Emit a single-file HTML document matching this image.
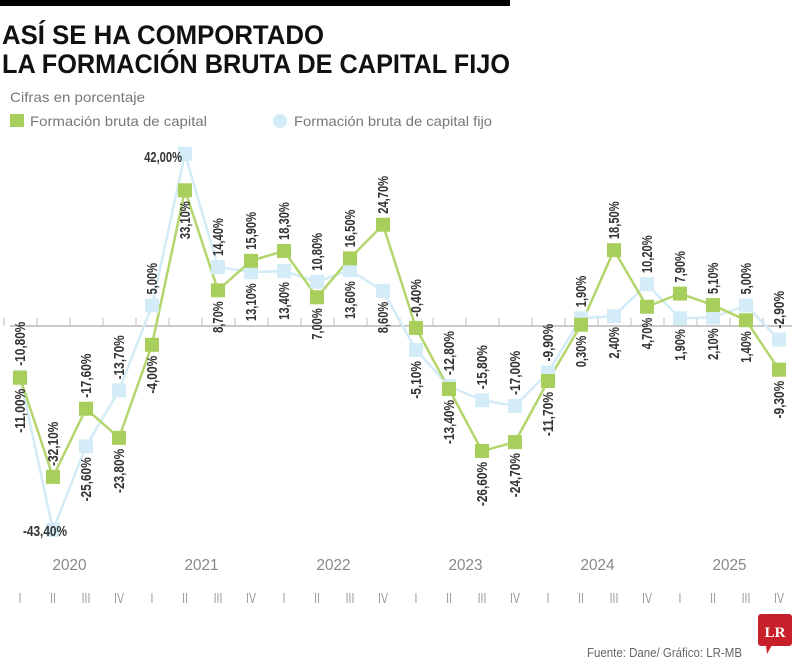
<!DOCTYPE html>
<html><head><meta charset="utf-8"><style>
body{margin:0;background:#fff;width:800px;height:666px;overflow:hidden;font-family:"Liberation Sans",sans-serif}
svg{display:block}
</style></head><body>
<svg width="800" height="666" viewBox="0 0 800 666">
<rect x="0" y="0" width="510" height="6" fill="#000"/>
<text x="2" y="44" font-size="27" font-weight="bold" fill="#111" textLength="322" lengthAdjust="spacingAndGlyphs">ASÍ SE HA COMPORTADO</text>
<text x="2" y="73" font-size="27" font-weight="bold" fill="#111" textLength="508" lengthAdjust="spacingAndGlyphs">LA FORMACIÓN BRUTA DE CAPITAL FIJO</text>
<text x="10" y="102" font-size="14" fill="#777" textLength="135" lengthAdjust="spacingAndGlyphs">Cifras en porcentaje</text>
<g><rect x="10" y="114" width="14" height="13" fill="#a8cf5c"/><text x="30" y="126" font-size="14" fill="#777" textLength="177" lengthAdjust="spacingAndGlyphs">Formación bruta de capital</text></g>
<g><circle cx="280" cy="121" r="7" fill="#d3ecf7"/><text x="294" y="126" font-size="14" fill="#777" textLength="198" lengthAdjust="spacingAndGlyphs">Formación bruta de capital fijo</text></g>
<line x1="10" y1="326" x2="792" y2="326" stroke="#aaa" stroke-width="1.2"/>
<g id="ticks"></g><g id="lines"></g><g id="marks"></g><g id="labels"></g><g id="xaxis"></g>
<text x="587" y="657" font-size="13" fill="#666" textLength="155" lengthAdjust="spacingAndGlyphs">Fuente: Dane/ Gráfico: LR-MB</text>
<g><rect x="758" y="614" width="34" height="32" rx="3" fill="#c8202a"/><polygon points="766,645 772,645 767,654" fill="#c8202a"/><text x="775" y="637" font-size="15" font-weight="bold" fill="#fff" text-anchor="middle" font-family="Liberation Serif, serif">LR</text></g>
</svg>
<script>
const quarters=["I","II","III","IV","I","II","III","IV","I","II","III","IV","I","II","III","IV","I","II","III","IV","I","II","III","IV"];
const years=["2020","2021","2022","2023","2024","2025"];
const capital=[-11.0,-32.1,-17.6,-23.8,-4.0,33.1,8.7,15.9,18.3,7.0,16.5,24.7,-0.4,-13.4,-26.6,-24.7,-11.7,0.3,18.5,4.7,7.9,5.1,1.4,-9.3];
const capitalFijo=[-10.8,-43.4,-25.6,-13.7,5.0,42.0,14.4,13.1,13.4,10.8,13.6,8.6,-5.1,-12.8,-15.8,-17.0,-9.9,1.9,2.4,10.2,1.9,2.1,5.0,-2.9];
const NS="http://www.w3.org/2000/svg";
function xs(i){return 20+i*33;}
function ys(v){return v>=0?326-v*4.1:326-v*4.7;}
function fmt(v){return v.toFixed(2).replace('.',',')+'%';}
function mk(tag,attrs,parent){const e=document.createElementNS(NS,tag);for(const k in attrs)e.setAttribute(k,attrs[k]);document.getElementById(parent).appendChild(e);return e;}
for(let i=0;i<quarters.length;i++){
 const t=mk('line',{x1:xs(i)-16,y1:318,x2:xs(i)-16,y2:326,stroke:'#bbb','stroke-width':1},'ticks');
 
 
 const q=mk('text',{x:xs(i),y:603,'font-size':15,fill:'#999','text-anchor':'middle',transform:'translate('+xs(i)+',0) scale(0.7,1) translate('+(-xs(i))+',0)'},'xaxis');
 q.textContent=quarters[i];
 
 
}
years.forEach((y,j)=>{
 const t=mk('text',{x:(xs(j*4+1)+xs(j*4+2))/2,y:570,'font-size':16,fill:'#888','text-anchor':'middle',textLength:34,lengthAdjust:'spacingAndGlyphs'},'xaxis');
 t.textContent=y;
 
 
});
function line(arr,color,w,name){
 const p=mk('polyline',{points:arr.map((v,i)=>xs(i)+','+ys(v)).join(' '),fill:'none',stroke:color,'stroke-width':w},'lines');
 
 
}
line(capitalFijo,'#d3ecf7',2.5,'line-capital-fijo');
line(capital,'#b2d56c',2.5,'line-capital');
capitalFijo.forEach((v,i)=>{
 const r=mk('rect',{x:xs(i)-7,y:ys(v)-7,width:14,height:14,fill:'#d3ecf7'},'marks');
 
 
});
capital.forEach((v,i)=>{
 const r=mk('rect',{x:xs(i)-7,y:ys(v)-7,width:14,height:14,fill:'#a8cf5c'},'marks');
 
 
});
function label(v,i,above,horiz){
 const x=xs(i),y=ys(v);
 const s=fmt(v);
 const L=s.length*6.3;
 let t;
 if(horiz){
  t=mk('text',{x:above?x-3:x-8,y:above?y+8:y+6,'font-size':15,'font-weight':'bold',fill:'#333','text-anchor':above?'end':'middle',textLength:L,lengthAdjust:'spacingAndGlyphs'},'labels');
 }else{
  const ay=above?y-11:y+11;
  t=mk('text',{x:x+5,y:ay,'font-size':15,'font-weight':'bold',fill:'#333','text-anchor':above?'start':'end',textLength:L,lengthAdjust:'spacingAndGlyphs',transform:'rotate(-90 '+(x+5)+' '+ay+')'},'labels');
 }
 t.textContent=s;
 
 
}
for(let i=0;i<capital.length;i++){
 const g=capital[i],b=capitalFijo[i];
 const gAbove=ys(g)<=ys(b);
 label(g,i,gAbove,false);
 label(b,i,!gAbove,(i===1||i===5));
}
</script>
</body></html>
